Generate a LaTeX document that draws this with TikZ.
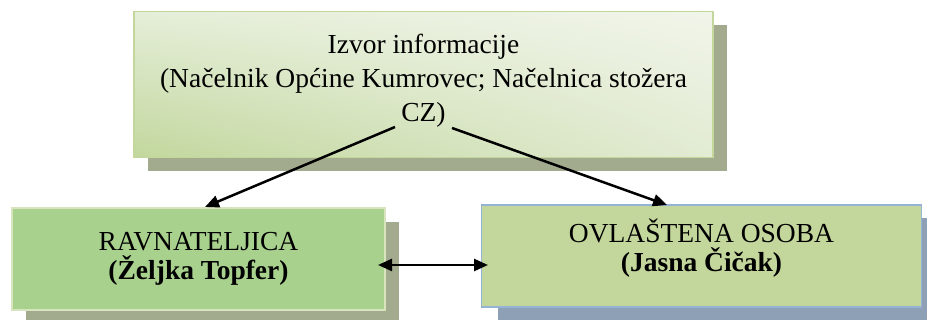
\documentclass[tikz,border=0pt]{standalone}
\usepackage{fontspec}
\setmainfont{Liberation Serif}
\usetikzlibrary{arrows.meta,shadows,shadings}
\definecolor{topborder}{HTML}{C3D69B}
\definecolor{topshadow}{HTML}{A3AB8E}
\definecolor{topUL}{HTML}{E5EED8}
\definecolor{topUR}{HTML}{F1F5EA}
\definecolor{topLL}{HTML}{C2D79D}
\definecolor{topLR}{HTML}{E2EBD3}
\definecolor{leftfill}{HTML}{A9D18E}
\definecolor{leftborder}{HTML}{D7E4BD}
\definecolor{leftshadow}{HTML}{A3AB8E}
\definecolor{rightfill}{HTML}{C3D69B}
\definecolor{rightborder}{HTML}{95B3D7}
\definecolor{rightshadow}{HTML}{8EA0B5}
\tikzset{
  x=1pt, y=1pt,
  boxbase/.style={rectangle, line width=1.5pt, inner sep=0pt},
  txt/.style={align=center, inner sep=0pt, font=\fontsize{27.5}{29}\selectfont},
  toptxt/.style={align=center, inner sep=0pt, font=\fontsize{27.5}{34}\selectfont},
  topbox/.style={boxbase, draw=topborder,
    upper left=topUL, upper right=topUR, lower left=topLL, lower right=topLR,
    minimum width=579pt, minimum height=146pt,
    drop shadow={shadow xshift=14pt, shadow yshift=-14pt, opacity=1, fill=topshadow}},
  leftbox/.style={boxbase, draw=leftborder, fill=leftfill,
    minimum width=373pt, minimum height=102pt,
    drop shadow={shadow xshift=14pt, shadow yshift=-14pt, opacity=1, fill=leftshadow}},
  rightbox/.style={boxbase, draw=rightborder, fill=rightfill,
    minimum width=440pt, minimum height=102pt,
    drop shadow={shadow xshift=16pt, shadow yshift=-13pt, opacity=1, fill=rightshadow}},
  tip/.tip={Triangle[length=14pt,width=12pt]},
  conn/.style={line width=2.5pt, -tip},
  dconn/.style={line width=2.5pt, tip-tip},
}
\begin{document}
\begin{tikzpicture}
\useasboundingbox (0,0) rectangle (927,320);
\node[topbox] (T) at (423.5,235.5) {};
\node[toptxt] (Tt) at ([yshift=4]T.center) {Izvor informacije\\(Načelnik Općine Kumrovec; Načelnica stožera\\CZ)};
\node[leftbox] (L) at (198.5,61) {};
\node[txt] (Lt) at ([yshift=0]L.center) {RAVNATELJICA\\\textbf{(Željka Topfer)}};
\node[rightbox] (R) at (701.5,64) {};
\node[txt] (Rt) at ([yshift=8]R.center) {OVLAŠTENA OSOBA\\\textbf{(Jasna Čičak)}};
\coordinate (s1) at (395,193);
\coordinate (s2) at (452,192);
\coordinate (h1) at (205,113);
\coordinate (h2) at (667,115);
\coordinate (d1) at (378,55);
\coordinate (d2) at (488,55);
\draw[conn] (s1) -- (h1);
\draw[conn] (s2) -- (h2);
\draw[dconn] (d1) -- (d2);
\end{tikzpicture}
\end{document}
